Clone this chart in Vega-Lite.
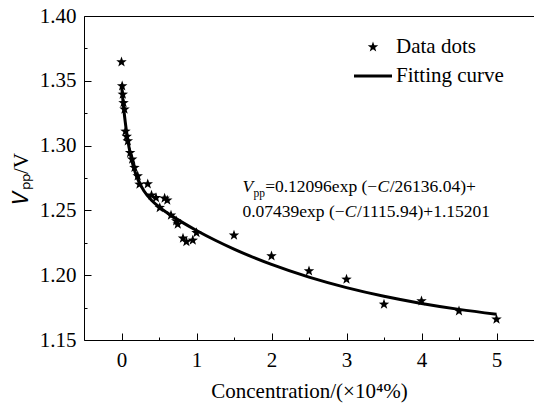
{
  "$schema": "https://vega.github.io/schema/vega-lite/v6.json",
  "width": 534,
  "height": 405,
  "autosize": {"type": "fit", "contains": "padding"},
  "padding": {"left": 10, "top": 5, "right": 0, "bottom": 4},
  "background": "white",
  "config": {
    "view": {"stroke": null},
    "font": "Liberation Serif",
    "axis": {
      "domainColor": "black",
      "domainWidth": 1,
      "tickColor": "black",
      "tickWidth": 1,
      "labelColor": "black",
      "labelFont": "Liberation Serif",
      "labelFontSize": 21,
      "titleFont": "Liberation Serif",
      "titleFontSize": 21,
      "titleFontWeight": "normal",
      "titleColor": "black"
    }
  },
  "datasets": {
    "curve": [
      {"x": 0, "y": 1.34736}, {"x": 0.01, "y": 1.34052}, {"x": 0.02, "y": 1.33423}, {"x": 0.03, "y": 1.32845},
      {"x": 0.05, "y": 1.31821}, {"x": 0.07, "y": 1.3095}, {"x": 0.1, "y": 1.29879}, {"x": 0.15, "y": 1.28562},
      {"x": 0.2, "y": 1.27645}, {"x": 0.3, "y": 1.26491}, {"x": 0.4, "y": 1.25787}, {"x": 0.5, "y": 1.25275},
      {"x": 0.6, "y": 1.2485}, {"x": 0.8, "y": 1.24113}, {"x": 1.0, "y": 1.23452}, {"x": 1.25, "y": 1.22699},
      {"x": 1.5, "y": 1.22015}, {"x": 2.0, "y": 1.20828}, {"x": 2.5, "y": 1.19848}, {"x": 3.0, "y": 1.19039},
      {"x": 3.5, "y": 1.18371}, {"x": 4.0, "y": 1.17819}, {"x": 4.5, "y": 1.17363}, {"x": 5.0, "y": 1.16987}
    ],
    "dots": [
      {"x": 0.0, "y": 1.3645, "series": "Data dots"},
      {"x": 0.009, "y": 1.346, "series": "Data dots"},
      {"x": 0.017, "y": 1.3395, "series": "Data dots"},
      {"x": 0.027, "y": 1.333, "series": "Data dots"},
      {"x": 0.04, "y": 1.328, "series": "Data dots"},
      {"x": 0.053, "y": 1.311, "series": "Data dots"},
      {"x": 0.07, "y": 1.307, "series": "Data dots"},
      {"x": 0.084, "y": 1.3035, "series": "Data dots"},
      {"x": 0.115, "y": 1.2945, "series": "Data dots"},
      {"x": 0.142, "y": 1.2895, "series": "Data dots"},
      {"x": 0.173, "y": 1.283, "series": "Data dots"},
      {"x": 0.216, "y": 1.2765, "series": "Data dots"},
      {"x": 0.24, "y": 1.2701, "series": "Data dots"},
      {"x": 0.35, "y": 1.2704, "series": "Data dots"},
      {"x": 0.4, "y": 1.2617, "series": "Data dots"},
      {"x": 0.46, "y": 1.2598, "series": "Data dots"},
      {"x": 0.51, "y": 1.2521, "series": "Data dots"},
      {"x": 0.575, "y": 1.2593, "series": "Data dots"},
      {"x": 0.61, "y": 1.2578, "series": "Data dots"},
      {"x": 0.66, "y": 1.2462, "series": "Data dots"},
      {"x": 0.73, "y": 1.2418, "series": "Data dots"},
      {"x": 0.75, "y": 1.2393, "series": "Data dots"},
      {"x": 0.82, "y": 1.2285, "series": "Data dots"},
      {"x": 0.865, "y": 1.2258, "series": "Data dots"},
      {"x": 0.95, "y": 1.2269, "series": "Data dots"},
      {"x": 1.0, "y": 1.2328, "series": "Data dots"},
      {"x": 1.5, "y": 1.2308, "series": "Data dots"},
      {"x": 2.0, "y": 1.2148, "series": "Data dots"},
      {"x": 2.5, "y": 1.2032, "series": "Data dots"},
      {"x": 3.0, "y": 1.1968, "series": "Data dots"},
      {"x": 3.5, "y": 1.1775, "series": "Data dots"},
      {"x": 4.0, "y": 1.1801, "series": "Data dots"},
      {"x": 4.5, "y": 1.1724, "series": "Data dots"},
      {"x": 5.0, "y": 1.166, "series": "Data dots"}
    ],
    "ann_normal": [
      {"x": 1.915, "y": 1.268, "t": "=0.12096exp (−"},
      {"x": 3.576, "y": 1.268, "t": "/26136.04)+"},
      {"x": 1.612, "y": 1.2488, "t": "0.07439exp (−"},
      {"x": 3.14, "y": 1.2488, "t": "/1115.94)+1.15201"}
    ],
    "ann_italic": [
      {"x": 1.612, "y": 1.268, "t": "V"},
      {"x": 3.413, "y": 1.268, "t": "C"},
      {"x": 2.977, "y": 1.2488, "t": "C"}
    ],
    "ann_sub": [
      {"x": 1.761, "y": 1.2627, "t": "pp"}
    ]
  },
  "encoding": {
    "x": {
      "field": "x", "type": "quantitative",
      "scale": {"domain": [-0.5, 5.5], "nice": false, "zero": false},
      "axis": {
        "values": [0, 0.5, 1, 1.5, 2, 2.5, 3, 3.5, 4, 4.5, 5],
        "labelExpr": "datum.value % 1 === 0 ? format(datum.value, 'd') : ''",
        "tickSize": {"condition": {"test": "datum.value % 1 !== 0", "value": -3}, "value": -7},
        "labelPadding": 16,
        "title": "Concentration/(×10⁴%)",
        "titlePadding": 10,
        "grid": false
      }
    },
    "y": {
      "field": "y", "type": "quantitative",
      "scale": {"domain": [1.15, 1.4], "nice": false, "zero": false},
      "axis": {
        "values": [1.15, 1.175, 1.2, 1.225, 1.25, 1.275, 1.3, 1.325, 1.35, 1.375, 1.4],
        "format": ".2f",
        "labelExpr": "abs(datum.value * 20 - round(datum.value * 20)) < 0.01 ? datum.label : ''",
        "tickSize": {"condition": {"test": "abs(datum.value * 20 - round(datum.value * 20)) > 0.01", "value": -3}, "value": -7},
        "labelPadding": 15,
        "title": "𝑉ₚₚ/V",
        "titlePadding": 8,
        "grid": true,
        "gridColor": {"condition": {"test": "datum.value > 1.399", "value": "black"}, "value": "transparent"},
        "gridWidth": 1
      }
    }
  },
  "layer": [
    {
      "data": {"name": "curve"},
      "mark": {"type": "line", "color": "black", "strokeWidth": 3, "interpolate": "monotone"}
    },
    {
      "data": {"name": "dots"},
      "mark": {"type": "point", "filled": true, "color": "black", "opacity": 1, "size": 1444},
      "encoding": {
        "shape": {
          "field": "series", "type": "nominal",
          "scale": {
            "domain": ["Data dots", "Fitting curve"],
            "range": [
              "M0,-0.29L0.0695,-0.0956L0.2758,-0.0896L0.1124,0.0365L0.1705,0.2346L0,0.118L-0.1705,0.2346L-0.1124,0.0365L-0.2758,-0.0896L-0.0695,-0.0956Z",
              "M-1,-0.08L1,-0.08L1,0.08L-1,0.08Z"
            ]
          },
          "legend": {
            "title": null,
            "orient": "none",
            "legendX": 270,
            "legendY": 12,
            "padding": 0,
            "labelFont": "Liberation Serif",
            "labelFontSize": 21,
            "labelColor": "black",
            "symbolSize": 1444,
            "symbolFillColor": "black",
            "symbolStrokeColor": "black",
            "symbolStrokeWidth": 0,
            "rowPadding": -14,
            "labelOffset": 4
          }
        }
      }
    },
    {
      "data": {"name": "ann_normal"},
      "mark": {"type": "text", "align": "left", "baseline": "middle", "fontSize": 17.5, "color": "black", "font": "Liberation Serif"},
      "encoding": {"text": {"field": "t"}}
    },
    {
      "data": {"name": "ann_italic"},
      "mark": {"type": "text", "align": "left", "baseline": "middle", "fontSize": 17.5, "fontStyle": "italic", "color": "black", "font": "Liberation Serif"},
      "encoding": {"text": {"field": "t"}}
    },
    {
      "data": {"name": "ann_sub"},
      "mark": {"type": "text", "align": "left", "baseline": "middle", "fontSize": 11.5, "color": "black", "font": "Liberation Serif"},
      "encoding": {"text": {"field": "t"}}
    }
  ]
}
